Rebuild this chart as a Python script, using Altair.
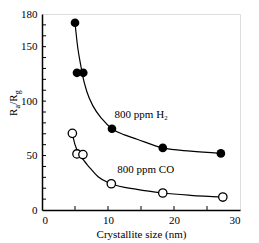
import altair as alt
import pandas as pd

# Measured points
h2_x = [5.0, 5.3, 6.25, 10.6, 18.3, 27.1]
h2_y = [172, 126, 126, 74.6, 57, 52]
co_x = [4.6, 5.3, 6.2, 10.5, 18.3, 27.4]
co_y = [70.4, 51.5, 50.9, 24.1, 15.6, 11.9]

# Fitted curves
h2_curve_x = [5.0, 5.42, 5.88, 6.1, 6.8, 7.74, 9.1, 10.6, 12.5, 14.4, 18.3, 22.5, 27.1]
h2_curve_y = [172, 149, 132.6, 125, 108.6, 95.4, 83.6, 74.6, 69, 65, 57, 54, 52]
co_curve_x = [4.6, 5.0, 5.7, 6.8, 7.5, 8.5, 10.5, 14.4, 18.3, 22.5, 27.4]
co_curve_y = [70.4, 60, 51.2, 42, 37, 30.5, 24.1, 18.9, 15.6, 13.5, 11.9]

x_ticks = [0, 5, 10, 15, 20, 25, 30]
y_ticks = [0, 50, 100, 150, 180]
y_minor = [10, 20, 30, 40, 60, 70, 80, 90, 110, 120, 130, 140, 160, 170]
x_inner = [5, 10, 15, 20, 25]

labels = ["800 ppm H\u2082", "800 ppm CO"]
label_x = [11.0, 11.4]
label_y = [86.8, 36.7]

FONT = "Liberation Serif"
W, H = 198, 196

pts = pd.DataFrame({"x": h2_x + co_x, "y": h2_y + co_y,
                    "s": ["H2"] * len(h2_x) + ["CO"] * len(co_x)})
h2c = pd.DataFrame({"x": h2_curve_x, "y": h2_curve_y})
coc = pd.DataFrame({"x": co_curve_x, "y": co_curve_y})

xs = alt.Scale(domain=[0, 30], nice=False)
ys = alt.Scale(domain=[0, 180], nice=False)

xax = alt.Axis(values=x_ticks, ticks=False, grid=False, title="Crystallite size (nm)",
               labelFont=FONT, labelFontSize=11, labelColor="black", labelPadding=4,
               titleFont=FONT, titleFontSize=11, titleColor="black", titleFontWeight="normal",
               titlePadding=3, domainColor="black", domainWidth=1.5)
yax = alt.Axis(values=y_ticks, ticks=False, grid=False, title=None,
               labelFont=FONT, labelFontSize=11, labelColor="black", labelPadding=5,
               domainColor="black", domainWidth=1.5)

base_x = alt.X("x:Q", scale=xs, axis=xax)
base_y = alt.Y("y:Q", scale=ys, axis=yax)

line_h2 = alt.Chart(h2c).mark_line(color="black", strokeWidth=1.2, interpolate="monotone").encode(
    x=base_x, y=base_y)
line_co = alt.Chart(coc).mark_line(color="black", strokeWidth=1.2, interpolate="monotone").encode(
    x="x:Q", y="y:Q")

h2p = alt.Chart(pts[pts.s == "H2"]).mark_circle(size=75, color="black", opacity=1).encode(
    x="x:Q", y="y:Q")
cop = alt.Chart(pts[pts.s == "CO"]).mark_point(size=70, shape="circle", filled=True, fill="white",
                                                stroke="black", strokeWidth=1.3, opacity=1).encode(
    x="x:Q", y="y:Q")

minor = alt.Chart(pd.DataFrame({"y": y_minor + y_ticks[1:-1]})).mark_rule(color="black", strokeWidth=1).encode(
    y="y:Q", x=alt.value(0), x2=alt.value(4))
xin = alt.Chart(pd.DataFrame({"x": x_inner})).mark_rule(color="black", strokeWidth=1).encode(
    x="x:Q", y=alt.value(H), y2=alt.value(H - 4))

ann = alt.Chart(pd.DataFrame({"x": label_x, "y": label_y, "t": labels})).mark_text(
    font=FONT, fontSize=11, align="left", baseline="middle", color="black").encode(
    x="x:Q", y="y:Q", text="t:N")

# y-axis title R_a/R_g built from pieces (rotated)
ttl = pd.DataFrame({
    "t": ["R", "a", "/R", "g"],
    "py": [102, 94.6, 90.8, 80.2],
    "px": [-25, -22, -25, -22],
    "fs": [11, 8, 11, 8],
})
title_layers = []
for _, r in ttl.iterrows():
    title_layers.append(
        alt.Chart(pd.DataFrame({"t": [r.t]})).mark_text(
            font=FONT, fontSize=float(r.fs), angle=270, align="left", baseline="alphabetic",
            color="black").encode(text="t:N", x=alt.value(float(r.px)), y=alt.value(float(r.py)))
    )

chart = alt.layer(line_h2, line_co, h2p, cop, minor, xin, ann, *title_layers).properties(
    width=W, height=H,
    autosize=alt.AutoSizeParams(type="none"),
    padding={"left": 34, "top": 6, "right": 10, "bottom": 32},
).configure_view(stroke="black", strokeWidth=1.5).configure(background="white")

chart.save("out.html", embed_options={"renderer": "svg", "actions": False})
